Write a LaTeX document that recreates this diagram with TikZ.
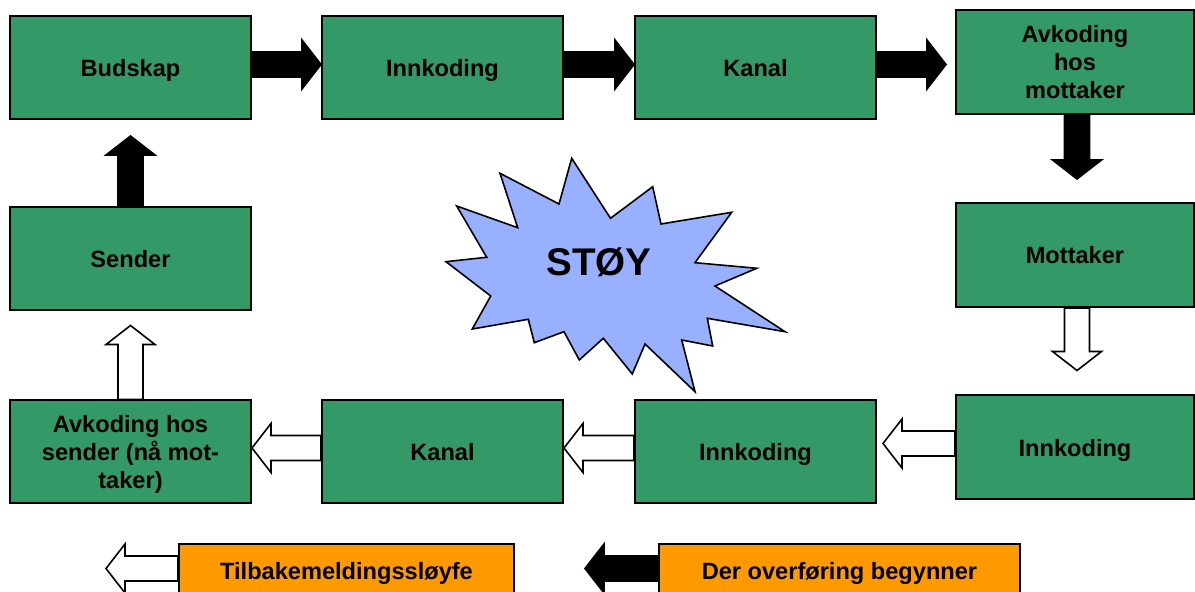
\documentclass[tikz,border=0pt]{standalone}
\usepackage{fontspec}
\setmainfont{Liberation Sans}
\usepackage{tikz}
\usetikzlibrary{calc}

\definecolor{boksgronn}{RGB}{51,153,102}
\definecolor{boksoransje}{RGB}{255,153,0}
\definecolor{stoyblaa}{RGB}{153,175,255}

\tikzset{
  boks/.style={draw=black, line width=1pt, fill=boksgronn, minimum width=120.5pt,
    minimum height=51.5pt, align=center, inner sep=2pt, text depth=0pt,
    font=\bfseries\fontsize{11.8}{14}\selectfont},
  hboks/.style={boks, minimum width=119pt, minimum height=52pt},
  oboks/.style={boks, fill=boksoransje, minimum height=27pt},
  blokkpil/.style={draw=black, line width=0.8pt, line join=miter, to path={
    ($(\tikztostart)!6.25pt!90:(\tikztotarget)$)
    -- ($(\tikztotarget)!9.5pt!(\tikztostart)!6.25pt!90:(\tikztotarget)$)
    -- ($(\tikztotarget)!9.5pt!(\tikztostart)!12.25pt!90:(\tikztotarget)$)
    -- (\tikztotarget)
    -- ($(\tikztotarget)!9.5pt!(\tikztostart)!12.25pt!-90:(\tikztotarget)$)
    -- ($(\tikztotarget)!9.5pt!(\tikztostart)!6.25pt!-90:(\tikztotarget)$)
    -- ($(\tikztostart)!6.25pt!-90:(\tikztotarget)$) -- cycle}},
  svart/.style={fill=black},
  hvit/.style={fill=white}
}

\begin{document}
\begin{tikzpicture}[x=0.5pt, y=-0.5pt]
    \useasboundingbox (0,0) rectangle (1195,592);

    \draw[fill=stoyblaa, line width=0.8pt, line join=miter]
        (571.7,158.3) -- (559,204) -- (500,173.3) -- (517.7,227.7) -- (456.7,206)
        -- (486.7,257.3) -- (446,261.7) -- (490.7,296) -- (472.3,329) -- (528.3,319.3)
        -- (534.3,342.7) -- (564,331.7) -- (579.3,360) -- (603.3,338.3) -- (632.3,374)
        -- (645,344) -- (695,391.7) -- (681.7,340) -- (712.7,346) -- (707.3,318.3)
        -- (785,331.7) -- (715,286) -- (756.7,268.3) -- (695,262.7) -- (731.7,212.3)
        -- (661,224) -- (652.7,186.7) -- (610.5,218.3) -- cycle;
    \node[font=\bfseries\fontsize{19.3}{23}\selectfont, text depth=0pt] (stoy) at (599,262) {STØY};

    \node[boks] (budskap) at (130.5,67.5) {Budskap};
    \node[boks] (innkod1) at (442.5,67.5) {Innkoding};
    \node[boks] (kanal1) at (755.5,67.5) {Kanal};
    \node[hboks] (avkodmott) at (1075,62) {Avkoding\\hos\\mottaker};
    \node[hboks] (mottaker) at (1075,255) {Mottaker};
    \node[hboks] (innkod3) at (1075,447.5) {Innkoding};
    \node[boks] (innkod2) at (755.5,452) {Innkoding};
    \node[boks] (kanal2) at (442.5,452) {Kanal};
    \node[boks] (avkodsender) at (130.5,452) {Avkoding hos\\sender (nå mot-\\taker)};
    \node[boks] (sender) at (130.5,259) {Sender};
    \node[oboks, minimum width=167.5pt] (tilbake) at (346.5,571) {Tilbakemeldingssløyfe};
    \node[oboks, minimum width=180.5pt] (overforing) at (839.5,571) {Der overføring begynner};

    \draw[blokkpil, svart] ([yshift=1.5pt]budskap.east) to ([yshift=1.5pt]innkod1.west);
    \draw[blokkpil, svart] ([yshift=1.5pt]innkod1.east) to ([yshift=1.5pt]kanal1.west);
    \draw[blokkpil, svart] ([yshift=1.5pt]kanal1.east) to ([yshift=1.5pt, xshift=-4.5pt]kanal1.east -| avkodmott.west);
    \draw[blokkpil, svart] ([xshift=1pt]avkodmott.south) to ([xshift=1pt, yshift=11.5pt]mottaker.north);
    \draw[blokkpil, hvit] ([xshift=1pt]mottaker.south) to ([xshift=1pt, yshift=12pt]innkod3.north);
    \draw[blokkpil, hvit] ([yshift=2pt]innkod3.west) to ([yshift=2pt, xshift=-36pt]innkod3.west);
    \draw[blokkpil, hvit] ([yshift=2pt]innkod2.west) to ([yshift=2pt]kanal2.east);
    \draw[blokkpil, hvit] ([yshift=2pt]kanal2.west) to ([yshift=2pt]avkodsender.east);
    \draw[blokkpil, hvit] (avkodsender.north) to ([yshift=-7pt]sender.south);
    \draw[blokkpil, svart] (sender.north) to ([yshift=-8pt]budskap.south);
    \draw[blokkpil, hvit] ([yshift=1.25pt]tilbake.west) to ([yshift=1.25pt, xshift=-36pt]tilbake.west);
    \draw[blokkpil, svart] ([yshift=1.25pt]overforing.west) to ([yshift=1.25pt, xshift=-36.5pt]overforing.west);
\end{tikzpicture}
\end{document}
